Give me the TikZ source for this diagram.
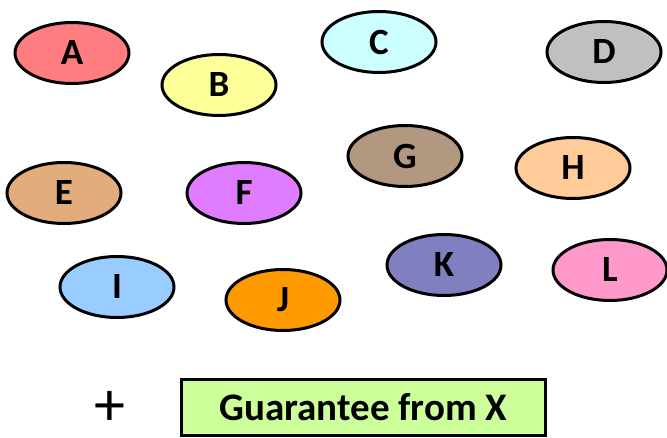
\documentclass[tikz,border=0pt]{standalone}
\usepackage{fontspec}
\setmainfont{Carlito}
\usetikzlibrary{shapes.geometric}

\definecolor{colA}{RGB}{255,124,128}
\definecolor{colB}{RGB}{255,255,153}
\definecolor{colC}{RGB}{204,255,255}
\definecolor{colD}{RGB}{192,192,192}
\definecolor{colE}{RGB}{226,172,124}
\definecolor{colF}{RGB}{224,124,255}
\definecolor{colG}{RGB}{178,152,128}
\definecolor{colH}{RGB}{255,204,153}
\definecolor{colI}{RGB}{153,204,255}
\definecolor{colJ}{RGB}{255,153,0}
\definecolor{colK}{RGB}{128,128,192}
\definecolor{colL}{RGB}{255,153,204}
\definecolor{colGuar}{RGB}{204,255,153}

\begin{document}
\begin{tikzpicture}[x=1pt,y=-1pt,
    party/.style={draw,ellipse,line width=3pt,minimum width=114pt,minimum height=61pt,
      inner sep=0pt,font=\bfseries\fontsize{37}{37}\selectfont},
    guarbox/.style={draw,rectangle,line width=2.5pt,minimum width=364pt,minimum height=56pt,
      inner sep=0pt,font=\bfseries\fontsize{39}{39}\selectfont}]

  \useasboundingbox (0,0) rectangle (667,438);

  % the twelve parties
  \node [party,fill=colA] (A) at (72,53) {A};
  \node [party,fill=colB] (B) at (219,85) {B};
  \node [party,fill=colC] (C) at (379,42) {C};
  \node [party,fill=colD] (D) at (604,52) {D};
  \node [party,fill=colE] (E) at (64,193) {E};
  \node [party,fill=colF] (F) at (244,193) {F};
  \node [party,fill=colG] (G) at (405,156) {G};
  \node [party,fill=colH] (H) at (573,168) {H};
  \node [party,fill=colI] (I) at (117,287) {I};
  \node [party,fill=colJ] (J) at (283,300) {J};
  \node [party,fill=colK] (K) at (444,265) {K};
  \node [party,fill=colL] (L) at (610,270) {L};

  % plus the guarantee
  \node [font=\fontsize{62}{62}\selectfont,inner sep=3pt] (plus) at (110,408) {+};
  \node [guarbox,fill=colGuar] (guar) at (363.5,407.5) {Guarantee from X};

\end{tikzpicture}
\end{document}
